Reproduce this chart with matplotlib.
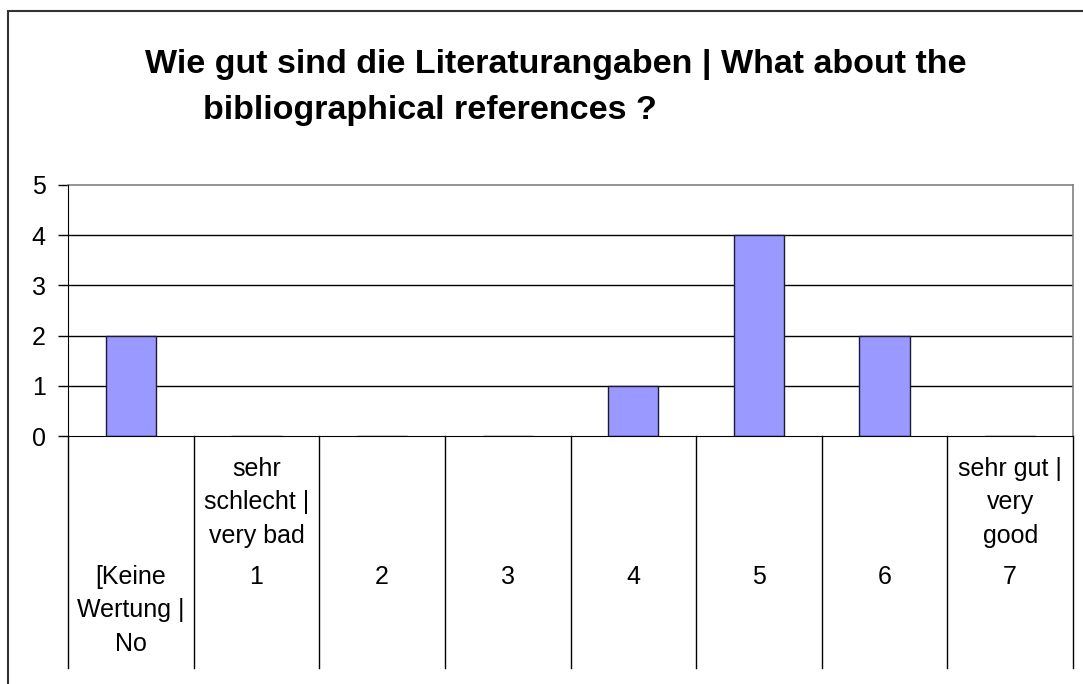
import numpy as np
import matplotlib
matplotlib.use("Agg")
import matplotlib.pyplot as plt
from matplotlib.patches import Rectangle

plt.rcParams['font.family'] = ['Liberation Sans', 'DejaVu Sans']

# data
title_line1 = "Wie gut sind die Literaturangaben | What about the"
title_line2 = "bibliographical references ?"
counts = [2, 0, 0, 0, 1, 4, 2, 0]
# scale number row and the wrapped text that sits above / below it
numbers = ["[Keine", "1", "2", "3", "4", "5", "6", "7"]
above = [[], ["sehr", "schlecht |", "very bad"], [], [], [], [], [], ["sehr gut |", "very", "good"]]
below = [["Wertung |", "No"], [], [], [], [], [], [], []]
yticks = [0, 1, 2, 3, 4, 5]

W, H = 1083, 684
fig = plt.figure(figsize=(W / 100, H / 100), dpi=100)

def fx(px):
    return px / W

def fy(py):
    return 1 - py / H

# plot area in pixels
left, right, top, bottom = 68, 1073, 185, 436
ax = fig.add_axes([fx(left), fy(bottom), fx(right) - fx(left), fy(top) - fy(bottom)])

n = len(counts)
x = np.arange(n) + 0.5
ax.bar(x, counts, width=0.4, color="#9999ff", edgecolor="#1a1a33", linewidth=1, zorder=2)
ax.set_xlim(0, n)
ax.set_ylim(0, 5)
ax.set_yticks(yticks)
ax.set_yticklabels([str(t) for t in yticks], fontsize=18)
ax.tick_params(axis="y", length=7, width=1, pad=9, color="black")
ax.set_xticks([])
for t in yticks[1:-1]:
    ax.axhline(t, color="black", linewidth=1, zorder=1)
ax.spines["top"].set_color("#808080")
ax.spines["right"].set_color("#808080")
ax.spines["top"].set_linewidth(1.2)
ax.spines["right"].set_linewidth(1.2)
for s in ("left", "bottom"):
    ax.spines[s].set_color("black")
    ax.spines[s].set_zorder(3)

# category separators below the axis
sep_bottom = 668
for k in range(n + 1):
    xp = left + (right - left) * k / n
    fig.add_artist(plt.Line2D([fx(xp), fx(xp)], [fy(bottom), fy(sep_bottom)],
                              color="black", linewidth=1))

# category labels (baselines in pixels)
row_base = 584
above_base = 543
line_h = 33.5
for i in range(n):
    xc = left + (right - left) * (i + 0.5) / n
    fig.text(fx(xc), fy(row_base), numbers[i], ha="center", va="baseline", fontsize=18)
    for j, s in enumerate(reversed(above[i])):
        fig.text(fx(xc), fy(above_base - j * line_h), s, ha="center", va="baseline", fontsize=18)
    for j, s in enumerate(below[i]):
        fig.text(fx(xc), fy(row_base + (j + 1) * line_h), s, ha="center", va="baseline", fontsize=18)

# title
fig.text(fx(556), fy(73), title_line1, ha="center", va="baseline", fontsize=24.5, fontweight="bold")
fig.text(fx(203), fy(119), title_line2, ha="left", va="baseline", fontsize=24.5, fontweight="bold")

# outer chart border (continues past the image edge)
fig.add_artist(Rectangle((fx(8), fy(H + 20)), 1.2, fy(11) - fy(H + 20),
                         transform=fig.transFigure, fill=False,
                         edgecolor="#333333", linewidth=1.5, clip_on=False))

fig.savefig("out.png", dpi=100)
